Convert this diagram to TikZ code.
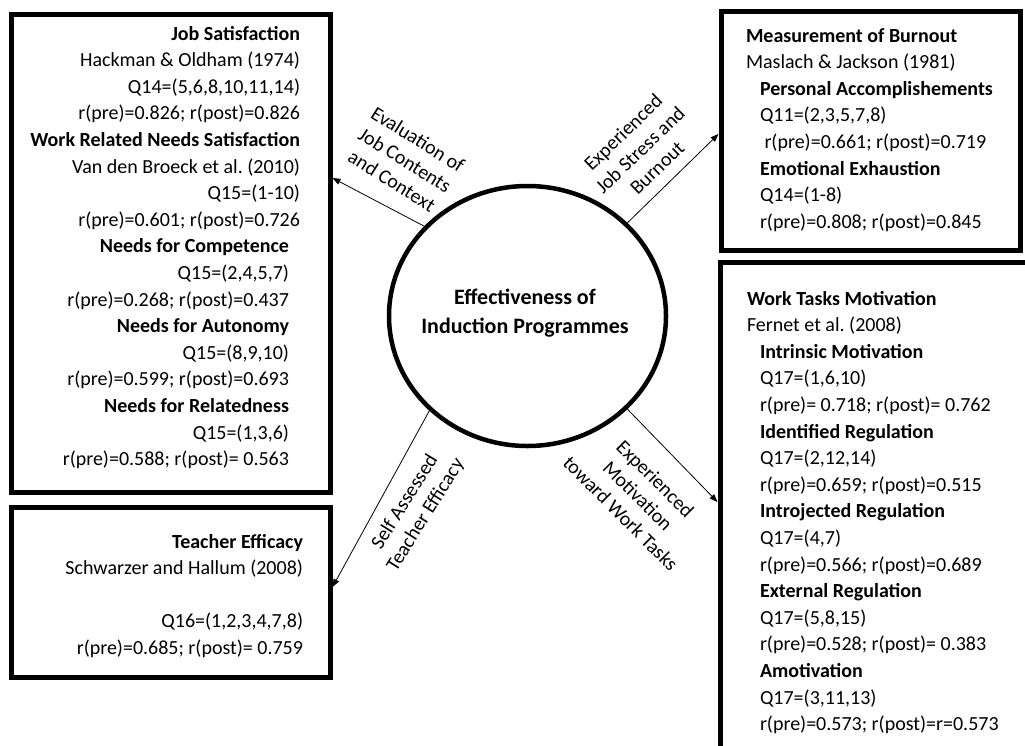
\documentclass[tikz,border=0pt]{standalone}
\usepackage{fontspec}
\setmainfont{Carlito}
\usetikzlibrary{arrows.meta,shapes.geometric}
\frenchspacing
\begin{document}
\begin{tikzpicture}[x=1pt,y=-1pt,
  box/.style={draw, line width=5pt, rectangle, inner sep=0pt},
  txt/.style={font=\fontsize{20}{26.6}\selectfont\frenchspacing, inner sep=0pt, outer sep=0pt},
  lbl/.style={font=\fontsize{20}{24.5}\selectfont, align=center, inner sep=0pt},
  ctr/.style={font=\bfseries\fontsize{22}{29}\selectfont, align=center, inner sep=0pt},
  conn/.style={line width=0.8pt, -{Triangle[length=8pt,width=6pt]}}]
\useasboundingbox (0,0) rectangle (1025,745);
\clip (0,0) rectangle (1025,745);
% boxes
\node[box, minimum width=319pt, minimum height=478pt] (b1) at (170.5,253) {};
\node[box, minimum width=319pt, minimum height=170pt] (b2) at (170.5,592) {};
\node[box, minimum width=299pt, minimum height=239pt] (b3) at (870.5,130.5) {};
\node[box, minimum width=325pt, minimum height=508pt] (b4) at (882.5,516) {};
% circle
\node[draw, ellipse, line width=4.5pt, minimum width=277pt, minimum height=260pt, inner sep=0pt] (c) at (527.5,316) {};
\node[ctr] (ct) at (525,313) {Effectiveness of\\Induction Programmes};
% left top box text
\node[txt, align=right, anchor=north east] (t1a) at (300,21.4) {\strut\textbf{Job Satisfaction}\\Hackman \& Oldham (1974)\\Q14=(5,6,8,10,11,14)\\r(pre)=0.826; r(post)=0.826\\\textbf{Work Related Needs Satisfaction}\\Van den Broeck et al. (2010)\\Q15=(1-10)\\r(pre)=0.601; r(post)=0.726};
\node[txt, align=right, anchor=north east] (t1b) at (289,234.2) {\strut\textbf{Needs for Competence}\\Q15=(2,4,5,7)\\r(pre)=0.268; r(post)=0.437\\\textbf{Needs for Autonomy}\\Q15=(8,9,10)\\r(pre)=0.599; r(post)=0.693\\\textbf{Needs for Relatedness}\\Q15=(1,3,6)\\r(pre)=0.588; r(post)= 0.563};
% left bottom box text
\node[txt, align=right, anchor=north east] (t2) at (303,529.4) {\strut\textbf{Teacher Efficacy}\\Schwarzer and Hallum (2008)\\\strut\\Q16=(1,2,3,4,7,8)\\r(pre)=0.685; r(post)= 0.759};
% right top box text
\node[txt, align=left, anchor=north west] (t3) at (746,23.4) {\strut\textbf{Measurement of Burnout}\\Maslach \& Jackson (1981)\\\hspace*{14pt}\textbf{Personal Accomplishements}\\\hspace*{14pt}Q11=(2,3,5,7,8)\\\hspace*{18.5pt}r(pre)=0.661; r(post)=0.719\\\hspace*{14pt}\textbf{Emotional Exhaustion}\\\hspace*{14pt}Q14=(1-8)\\\hspace*{14pt}r(pre)=0.808; r(post)=0.845};
% right bottom box text
\node[txt, align=left, anchor=north west] (t4) at (747,286.4) {\strut\textbf{Work Tasks Motivation}\\Fernet et al. (2008)\\\hspace*{13pt}\textbf{Intrinsic Motivation}\\\hspace*{13pt}Q17=(1,6,10)\\\hspace*{13pt}r(pre)= 0.718; r(post)= 0.762\\\hspace*{13pt}\textbf{Identified Regulation}\\\hspace*{13pt}Q17=(2,12,14)\\\hspace*{13pt}r(pre)=0.659; r(post)=0.515\\\hspace*{13pt}\textbf{Introjected Regulation}\\\hspace*{13pt}Q17=(4,7)\\\hspace*{13pt}r(pre)=0.566; r(post)=0.689\\\hspace*{13pt}\textbf{External Regulation}\\\hspace*{13pt}Q17=(5,8,15)\\\hspace*{13pt}r(pre)=0.528; r(post)= 0.383\\\hspace*{13pt}\textbf{Amotivation}\\\hspace*{13pt}Q17=(3,11,13)\\\hspace*{13pt}r(pre)=0.573; r(post)=r=0.573};
% connector labels
\node[lbl, rotate=-32] (l1) at (405,160) {Evaluation of\\Job Contents\\and Context};
\node[lbl, rotate=44] (l2) at (640,150) {Experienced\\Job Stress and\\Burnout};
\node[lbl, rotate=58] (l3) at (415.5,508.5) {Self Assessed\\Teacher Efficacy};
\node[lbl, rotate=-45] (l4) at (638,496) {Experienced\\Motivation\\toward Work Tasks};
% connectors
\coordinate (p1) at (0,178);
\coordinate (p2) at (0,134);
\coordinate (p3) at (0,587);
\coordinate (p4) at (0,502);
\draw[conn] (c.139) -- (b1.east |- p1);
\draw[conn] (c.43) -- (b3.west |- p2);
\draw[conn] (c.224) -- (b2.east |- p3);
\draw[conn] (c.317) -- (b4.west |- p4);
\end{tikzpicture}
\end{document}
